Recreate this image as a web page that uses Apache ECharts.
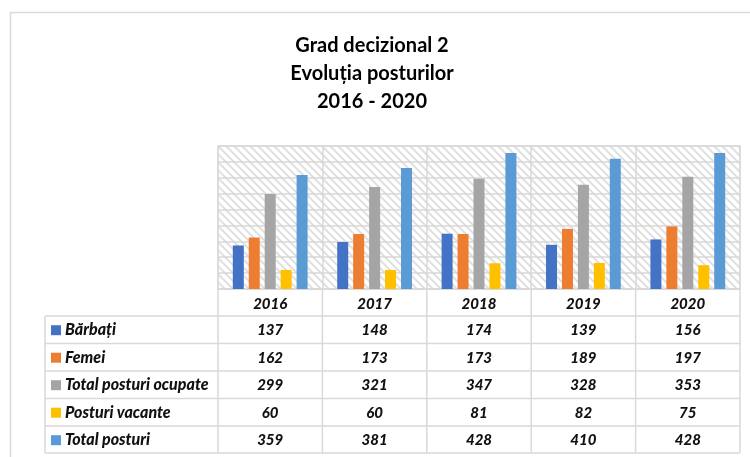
<!DOCTYPE html>
<html>
<head>
<meta charset="utf-8">
<script src="https://cdn.jsdelivr.net/npm/echarts@6/dist/echarts.min.js"></script>
<style>html,body{margin:0;padding:0;background:#fff}#c{width:750px;height:457px}</style>
</head>
<body>
<div id="c"></div>
<script>
var years = ['2016', '2017', '2018', '2019', '2020'];
var seriesNames = ['Bărbați', 'Femei', 'Total posturi ocupate', 'Posturi vacante', 'Total posturi'];
var barbati = [137, 148, 174, 139, 156];
var femei = [162, 173, 173, 189, 197];
var totalOcupate = [299, 321, 347, 328, 353];
var vacante = [60, 60, 81, 82, 75];
var totalPosturi = [359, 381, 428, 410, 428];
var colors = ['#4472C4', '#ED7D31', '#A5A5A5', '#FFC000', '#5B9BD5'];
var titleLines = ['Grad decizional 2', 'Evoluția posturilor', '2016 - 2020'];

var allSeries = [barbati, femei, totalOcupate, vacante, totalPosturi];

// hatch pattern
var pc = document.createElement('canvas');
pc.width = 8; pc.height = 8;
var px = pc.getContext('2d');
px.fillStyle = '#ffffff'; px.fillRect(0, 0, 8, 8);
px.strokeStyle = '#e0e0e0'; px.lineWidth = 2;
px.beginPath();
px.moveTo(-2, -2); px.lineTo(10, 10);
px.moveTo(-10, -2); px.lineTo(2, 10);
px.moveTo(6, -2); px.lineTo(18, 10);
px.stroke();

var gL = 218, gR = 740, gT = 146, gB = 289;
var catW = (gR - gL) / years.length;
var rowTops = [316, 343.5, 371, 398.5, 426];
var rowH = 27.4;
var tblLeft = 45, tblBottom = 453;
var lineC = '#d9d9d9';
var textC = '#111';
var fontFam = 'Lato, "Open Sans", sans-serif';

var graphics = [];
// outer border
graphics.push({type: 'polyline', shape: {points: [[10.5, 457], [10.5, 12.5], [750, 12.5]]}, style: {stroke: '#d9d9d9', lineWidth: 1.5, fill: null}, silent: true});
// title
titleLines.forEach(function (t, i) {
  graphics.push({type: 'text', x: 372, y: 46 + i * 27.8, style: {text: t, fill: '#000', font: 'bold 20px ' + fontFam, textAlign: 'center', textVerticalAlign: 'middle'}});
});
// table horizontal lines
for (var r = 0; r <= rowTops.length; r++) {
  var y = r < rowTops.length ? rowTops[r] : tblBottom;
  graphics.push({type: 'line', shape: {x1: tblLeft, y1: y, x2: gR, y2: y}, style: {stroke: lineC, lineWidth: 1.5}});
}
// vertical lines
graphics.push({type: 'line', shape: {x1: tblLeft, y1: rowTops[0], x2: tblLeft, y2: tblBottom}, style: {stroke: lineC, lineWidth: 1.5}});
for (var c = 0; c <= years.length; c++) {
  var x = gL + c * catW;
  graphics.push({type: 'line', shape: {x1: x, y1: gB, x2: x, y2: tblBottom}, style: {stroke: lineC, lineWidth: 1.5}});
}
// rows
seriesNames.forEach(function (name, i) {
  var cy = rowTops[i] + rowH / 2 + 0.5;
  graphics.push({type: 'rect', shape: {x: 51, y: cy - 5, width: 10, height: 10}, style: {fill: colors[i]}});
  graphics.push({type: 'text', x: 65, y: cy, style: {text: name, fill: textC, font: 'italic 900 16px ' + fontFam, textAlign: 'left', textVerticalAlign: 'middle'}});
  allSeries[i].forEach(function (v, j) {
    graphics.push({type: 'text', x: gL + (j + 0.5) * catW, y: cy, style: {text: String(v), fill: textC, font: 'italic 900 15px ' + fontFam, textAlign: 'center', textVerticalAlign: 'middle'}});
  });
});

var chart = echarts.init(document.getElementById('c'), null, {renderer: 'canvas'});
chart.setOption({
  animation: false,
  backgroundColor: '#fff',
  grid: {left: gL, right: 750 - gR, top: gT, bottom: 457 - gB, show: true, borderColor: lineC, borderWidth: 1.5,
    backgroundColor: {image: pc, repeat: 'repeat'}},
  xAxis: {type: 'category', data: years, boundaryGap: true,
    axisLine: {show: true, lineStyle: {color: lineC, width: 1.5}},
    axisTick: {show: false},
    splitLine: {show: true, lineStyle: {color: lineC, width: 1.5}},
    axisLabel: {margin: 8, color: textC, fontSize: 15, fontWeight: 900, fontStyle: 'italic', fontFamily: fontFam}},
  yAxis: {type: 'value', min: 0, max: 450, interval: 50,
    axisLine: {show: false}, axisTick: {show: false}, axisLabel: {show: false},
    splitLine: {show: true, lineStyle: {color: lineC, width: 1.5}}},
  series: allSeries.map(function (d, i) {
    return {type: 'bar', name: seriesNames[i], data: d, barWidth: 11, barGap: '45%', itemStyle: {color: colors[i]}};
  }),
  graphic: graphics
});
</script>
</body>
</html>
